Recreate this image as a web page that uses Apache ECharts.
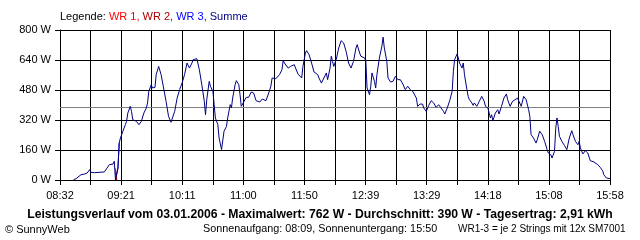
<!DOCTYPE html>
<html><head><meta charset="utf-8">
<script src="https://cdn.jsdelivr.net/npm/echarts@6/dist/echarts.min.js"></script>
<style>html,body{margin:0;padding:0;background:#fff}#c{width:640px;height:240px}</style>
</head><body><div id="c"></div>
<script>
const tickLabels = ["08:32","09:21","10:11","11:00","11:50","12:39","13:29","14:18","15:08","15:58"];
const yTicks = [0,160,320,480,640,800];
const avgValue = 390;
const times = ["08:43","08:45","08:49","08:52","08:54","08:56","08:57","09:00","09:08","09:12",
"09:15","09:16","09:17","09:19","09:20","09:21","09:23","09:25","09:26","09:27",
"09:29","09:30","09:31","09:34","09:36","09:38","09:40","09:42","09:43","09:44",
"09:46","09:47","09:49","09:50","09:52","09:54","09:56","09:58","10:00","10:02",
"10:03","10:05","10:07","10:09","10:11","10:13","10:15","10:17","10:19","10:20",
"10:21","10:23","10:25","10:27","10:29","10:30","10:31","10:33","10:34","10:36",
"10:37","10:38","10:40","10:41","10:43","10:44","10:45","10:47","10:48","10:50",
"10:51","10:52","10:54","10:55","10:57","10:58","10:59","11:01","11:03","11:05",
"11:07","11:09","11:11","11:14","11:16","11:19","11:21","11:23","11:24","11:27",
"11:30","11:32","11:33","11:34","11:37","11:39","11:42","11:43","11:45","11:48",
"11:49","11:51","11:52","11:54","11:56","11:58","12:01","12:02","12:04","12:06",
"12:08","12:09","12:10","12:11","12:12","12:13","12:14","12:16","12:18","12:20",
"12:22","12:24","12:26","12:28","12:30","12:32","12:33","12:35","12:36","12:37",
"12:39","12:40","12:41","12:43","12:44","12:45","12:47","12:48","12:49","12:51",
"12:53","12:54","12:55","12:57","12:58","13:00","13:02","13:04","13:06","13:08",
"13:10","13:12","13:14","13:16","13:18","13:21","13:22","13:24","13:26","13:27",
"13:29","13:31","13:33","13:35","13:37","13:39","13:41","13:43","13:44","13:46",
"13:48","13:50","13:51","13:52","13:54","13:55","13:56","13:58","13:59","14:00",
"14:02","14:03","14:04","14:06","14:07","14:08","14:10","14:12","14:14","14:16",
"14:17","14:19","14:21","14:22","14:23","14:25","14:27","14:28","14:30","14:32",
"14:34","14:35","14:37","14:39","14:41","14:43","14:44","14:46","14:48","14:49",
"14:50","14:52","14:53","14:54","14:56","14:58","14:59","15:01","15:03","15:05",
"15:07","15:08","15:10","15:11","15:13","15:14","15:15","15:16","15:17","15:19",
"15:21","15:23","15:25","15:27","15:28","15:30","15:32","15:33","15:34","15:36",
"15:38","15:40","15:42","15:45","15:48","15:50","15:52","15:53","15:55","15:58"];
const summe = [2,7,28,32,37,55,41,39,43,82,
85,100,0,64,197,224,260,295,313,357,
393,366,322,313,295,313,357,384,411,473,
508,491,494,562,606,562,491,420,340,308,
309,366,437,482,517,562,624,597,624,642,
651,647,588,508,420,348,428,526,500,473,
402,331,295,224,162,162,260,286,331,402,
384,437,508,530,508,455,393,416,441,441,
469,464,423,416,432,423,459,500,544,540,
562,588,638,624,597,606,615,597,565,544,
606,677,690,668,624,576,562,544,517,544,
571,535,526,597,660,633,606,642,704,743,
731,686,624,597,633,704,722,677,660,668,
651,633,491,455,500,571,526,491,562,651,
713,762,704,633,544,523,526,553,535,535,
512,482,500,482,473,437,393,405,405,384,
366,398,423,411,388,402,384,366,352,384,
423,473,580,642,672,651,624,597,624,562,
482,446,428,411,398,411,393,420,446,420,
393,384,331,348,316,357,375,352,393,437,
459,428,393,420,428,437,428,393,446,455,
428,375,340,242,224,197,215,260,242,206,
162,144,135,117,153,277,331,286,233,206,
185,162,224,263,242,206,188,206,171,139,
156,144,103,96,82,68,50,28,11,7];
const wr1Times = ["09:17","09:18"];
const wr1 = [62,0];
const wr2Times = ["09:17","09:18"];
const wr2 = [40,0];
const wr3Times = ["09:17","09:19","09:20"];
const wr3 = [0,64,197];

const toMin = s => { const p = s.split(":"); return (+p[0])*60 + (+p[1]); };
const t0 = toMin(tickLabels[0]), t1 = toMin(tickLabels[tickLabels.length-1]);
const divisions = (tickLabels.length-1)*2;
const toX = s => (toMin(s) - t0) / ((t1 - t0) / divisions);
const pairs = (ts, vs) => ts.map((t,i) => [toX(t), vs[i]]);

const font = 'Liberation Sans, Arial, sans-serif';
const chart = echarts.init(document.getElementById('c'), null, {renderer:'canvas'});
const lineSeries = (name, ts, vs, color, z) => ({
  name, type:'line', data: pairs(ts, vs), symbol:'none', z,
  lineStyle:{color, width:1}, itemStyle:{color}, animation:false
});
const rs = c => ({color:c, fontSize:11, fontWeight:'normal', fontFamily:font});
chart.setOption({
  animation:false,
  backgroundColor:'#ffffff',
  title:{
    left:60, top:11, padding:0,
    text:'{a|Legende: }{b|WR 1, }{c|WR 2, }{d|WR 3, }{e|Summe}',
    textStyle:{fontWeight:'normal', rich:{
      a:rs('#000000'), b:rs('#ff0000'), c:rs('#b00000'), d:rs('#0000ff'), e:rs('#000080')
    }}
  },
  grid:{left:60, right:30, top:30, bottom:60, containLabel:false},
  xAxis:{
    type:'value', min:0, max:divisions, interval:1,
    axisLine:{show:true, lineStyle:{color:'#000', width:1}},
    axisTick:{show:true, length:5, lineStyle:{color:'#000', width:1}},
    splitLine:{show:true, lineStyle:{color:'#000', width:1}},
    axisLabel:{
      margin:10, color:'#000', fontSize:11, fontFamily:font,
      showMinLabel:true, showMaxLabel:true,
      formatter: v => { const i = Math.round(v); return i % 2 === 0 ? tickLabels[i/2] : ''; }
    }
  },
  yAxis:{
    type:'value', min:yTicks[0], max:yTicks[yTicks.length-1], interval:yTicks[1]-yTicks[0],
    axisLine:{show:true, lineStyle:{color:'#000', width:1}},
    axisTick:{show:true, length:5, lineStyle:{color:'#000', width:1}},
    splitLine:{show:true, lineStyle:{color:'#000', width:1}},
    axisLabel:{margin:9, color:'#000', fontSize:11, fontFamily:font, formatter:'{value} W'}
  },
  series:[
    Object.assign(lineSeries('Durchschnitt', [], [], '#808080', 2), {
      markLine:{silent:true, symbol:['none','none'], label:{show:false},
        lineStyle:{color:'#808080', width:1, type:'solid'}, data:[{yAxis:avgValue}]}
    }),
    lineSeries('WR 3', wr3Times, wr3, '#0000ff', 3),
    lineSeries('WR 1', wr1Times, wr1, '#ff0000', 4),
    lineSeries('WR 2', wr2Times, wr2, '#b00000', 4),
    lineSeries('Summe', times, summe, '#000080', 5)
  ],
  graphic:[
    {type:'text', left:'center', top:209, style:{text:'Leistungsverlauf vom 03.01.2006 - Maximalwert: 762 W - Durchschnitt: 390 W - Tagesertrag: 2,91 kWh', font:'bold 12.2px '+font, fill:'#000'}},
    {type:'text', left:5, top:224, style:{text:'© SunnyWeb', font:'11px '+font, fill:'#000'}},
    {type:'text', left:203, top:224, style:{text:'Sonnenaufgang: 08:09, Sonnenuntergang: 15:50', font:'10.8px '+font, fill:'#000'}},
    {type:'text', left:458, top:224, style:{text:'WR1-3 = je 2 Strings mit 12x SM7001', font:'10px '+font, fill:'#000'}}
  ]
});
</script></body></html>
